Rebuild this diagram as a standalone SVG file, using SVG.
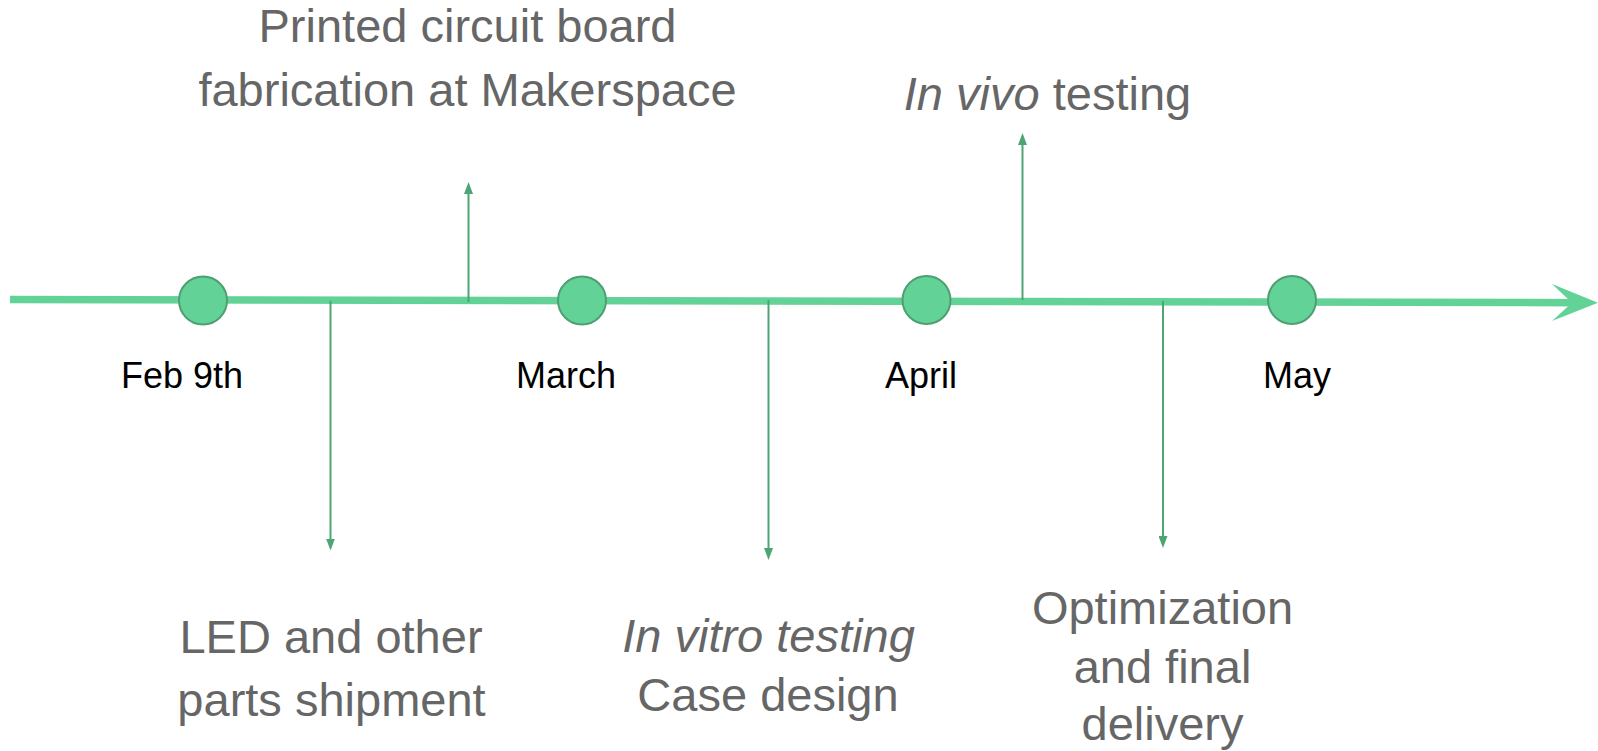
<svg xmlns="http://www.w3.org/2000/svg" width="1598" height="751" viewBox="0 0 1598 751">
  <style>
    .axis { stroke: #63d297; stroke-width: 7.5; fill: none; }
    .axis-head { fill: #63d297; }
    .milestone { fill: #63d297; stroke: #4e9f72; stroke-width: 2; }
    .link { stroke: #4ea574; stroke-width: 2; fill: none; }
    .month { font-family: "Liberation Sans", Arial, sans-serif; font-size: 36px; fill: #000; text-anchor: middle; }
    .task { font-family: "Liberation Sans", Arial, sans-serif; font-size: 47px; fill: #666666; text-anchor: middle; }
    .em { font-style: italic; }
  </style>
  <defs>
    <marker id="tip" viewBox="0 0 12 9" refX="1" refY="4.5" markerWidth="12" markerHeight="9" markerUnits="userSpaceOnUse" orient="auto">
      <path d="M0,0 L12,4.5 L0,9 z" fill="#4ea574"/>
    </marker>
  </defs>

  <!-- timeline axis and task connectors -->
  <g id="connectors">
    <line class="axis" x1="10" y1="299.5" x2="1578" y2="302.7"/>
    <polygon class="axis-head" points="1552,284 1598,302.7 1552,321 1572,302.7"/>
    <line class="link" x1="330.5" y1="301" x2="330.5" y2="539.5" marker-end="url(#tip)"/>
    <line class="link" x1="468.5" y1="302" x2="468.5" y2="193" marker-end="url(#tip)"/>
    <line class="link" x1="768.5" y1="300" x2="768.5" y2="549" marker-end="url(#tip)"/>
    <line class="link" x1="1022.5" y1="300" x2="1022.5" y2="144" marker-end="url(#tip)"/>
    <line class="link" x1="1163" y1="301" x2="1163" y2="537" marker-end="url(#tip)"/>
  </g>

  <!-- month milestones -->
  <g id="feb">
    <circle class="milestone" cx="203" cy="300.5" r="24"/>
    <text class="month" x="182" y="388">Feb 9th</text>
  </g>
  <g id="march">
    <circle class="milestone" cx="582" cy="300.5" r="24"/>
    <text class="month" x="566" y="388">March</text>
  </g>
  <g id="april">
    <circle class="milestone" cx="926.5" cy="300" r="24"/>
    <text class="month" x="921" y="388">April</text>
  </g>
  <g id="may">
    <circle class="milestone" cx="1292" cy="300" r="24"/>
    <text class="month" x="1297" y="388">May</text>
  </g>

  <!-- task labels -->
  <g id="pcb">
    <text class="task" x="467.5" y="41.5">Printed circuit board</text>
    <text class="task" x="467.5" y="106">fabrication at Makerspace</text>
  </g>
  <g id="invivo">
    <text class="task" x="1047.5" y="110"><tspan class="em">In vivo</tspan> testing</text>
  </g>
  <g id="shipment">
    <text class="task" x="331" y="653">LED and other</text>
    <text class="task" x="331.5" y="716">parts shipment</text>
  </g>
  <g id="invitro">
    <text class="task em" x="768.5" y="652">In vitro testing</text>
    <text class="task" x="768" y="711">Case design</text>
  </g>
  <g id="delivery">
    <text class="task" x="1162.5" y="624">Optimization</text>
    <text class="task" x="1162.5" y="683">and final</text>
    <text class="task" x="1162.5" y="740">delivery</text>
  </g>
</svg>
